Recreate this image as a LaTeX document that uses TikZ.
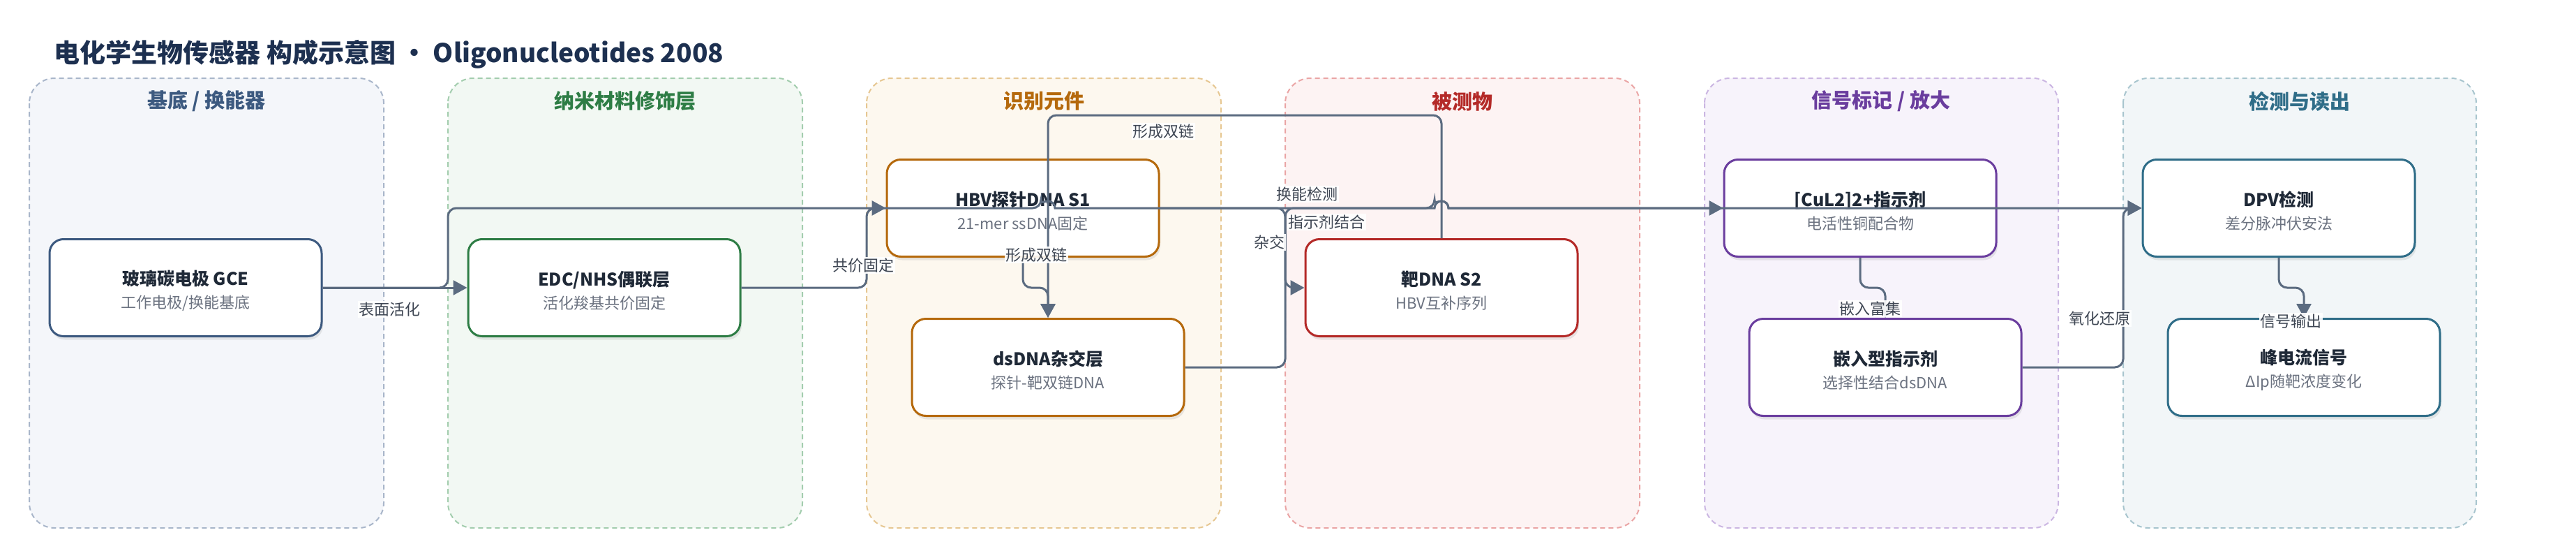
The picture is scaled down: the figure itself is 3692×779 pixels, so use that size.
\documentclass[tikz,border=0pt]{standalone}
\usepackage{fontspec}
\setmainfont{Noto Sans CJK SC}
\usetikzlibrary{arrows.meta,shadows}

\definecolor{titleink}{HTML}{1D3050}
\definecolor{nodeink}{HTML}{1F2937}
\definecolor{subink}{HTML}{6B7280}
\definecolor{labelink}{HTML}{3E4653}
\definecolor{wirecol}{HTML}{5B6B80}
\definecolor{baseC}{HTML}{3D5A80}\definecolor{baseF}{HTML}{F4F6FA}\definecolor{baseB}{HTML}{A9B6CA}
\definecolor{nanoC}{HTML}{2E7D45}\definecolor{nanoF}{HTML}{F2F8F3}\definecolor{nanoB}{HTML}{A3CDAE}
\definecolor{recoC}{HTML}{B5690C}\definecolor{recoF}{HTML}{FDF8EF}\definecolor{recoB}{HTML}{E6C792}
\definecolor{anaC}{HTML}{B42A28}\definecolor{anaF}{HTML}{FDF3F3}\definecolor{anaB}{HTML}{EAA5A5}
\definecolor{sigC}{HTML}{6A3D9E}\definecolor{sigF}{HTML}{F7F3FB}\definecolor{sigB}{HTML}{CBB6E2}
\definecolor{detC}{HTML}{2F6D88}\definecolor{detF}{HTML}{F2F6F8}\definecolor{detB}{HTML}{A8C5CE}

\tikzset{
  lane/.style 2 args={draw=#1, fill=#2, line width=2pt, dash pattern=on 7pt off 5pt, rounded corners=36pt},
  lanetitle/.style={text=#1, font=\bfseries\fontsize{29}{34}\selectfont},
  stage/.style={draw=#1, line width=3pt, fill=white, rounded corners=20pt,
    minimum width=390pt, minimum height=139pt, align=center, inner sep=0pt,
    font=\fontsize{22}{33}\selectfont, text=subink,
    drop shadow={shadow xshift=2pt, shadow yshift=-5pt, opacity=0.16}},
  wire/.style={draw=wirecol, line width=3pt, rounded corners=12pt, -{Triangle[length=20pt,width=21pt]}},
  wirelabel/.style={fill=white, fill opacity=0.9, text opacity=1, text=labelink, inner sep=1.5pt,
    font=\fontsize{22}{26}\selectfont}
}
\newcommand{\stagetext}[2]{\rule{0pt}{29pt}{\bfseries\fontsize{25}{33}\selectfont\color{nodeink}#1}\\#2}

\begin{document}
\begin{tikzpicture}[x=1pt,y=-1pt]
  \useasboundingbox (0,0) rectangle (3692,779);
  \node[anchor=west, text=titleink, font=\bfseries\fontsize{37}{44}\selectfont] (title) at (74,78)
    {电化学生物传感器 构成示意图 · Oligonucleotides 2008};

  \draw[lane={baseB}{baseF}] (42,112) rectangle (550,756);
  \draw[lane={nanoB}{nanoF}] (642,112) rectangle (1150,756);
  \draw[lane={recoB}{recoF}] (1242,112) rectangle (1750,756);
  \draw[lane={anaB}{anaF}] (1842,112) rectangle (2350,756);
  \draw[lane={sigB}{sigF}] (2443,112) rectangle (2950,756);
  \draw[lane={detB}{detF}] (3043,112) rectangle (3549,756);

  \node[lanetitle=baseC] (base) at (296,145) {基底 / 换能器};
  \node[lanetitle=nanoC] (nano) at (896,145) {纳米材料修饰层};
  \node[lanetitle=recoC] (reco) at (1496,145) {识别元件};
  \node[lanetitle=anaC] (ana) at (2096,145) {被测物};
  \node[lanetitle=sigC] (sig) at (2696,145) {信号标记 / 放大};
  \node[lanetitle=detC] (det) at (3296,145) {检测与读出};

  \node[stage=baseC] (gce) at (266,412) {\stagetext{玻璃碳电极 GCE}{工作电极/换能基底}};
  \node[stage=nanoC] (edc) at (866,412) {\stagetext{EDC/NHS偶联层}{活化羧基共价固定}};
  \node[stage=recoC] (s1) at (1466,298) {\stagetext{HBV探针DNA S1}{21-mer ssDNA固定}};
  \node[stage=recoC] (ds) at (1502,526) {\stagetext{dsDNA杂交层}{探针-靶双链DNA}};
  \node[stage=anaC] (s2) at (2066,412) {\stagetext{靶DNA S2}{HBV互补序列}};
  \node[stage=sigC] (cu) at (2666,298) {\stagetext{[CuL2]2+指示剂}{电活性铜配合物}};
  \node[stage=sigC] (intc) at (2702,526) {\stagetext{嵌入型指示剂}{选择性结合dsDNA}};
  \node[stage=detC] (dpv) at (3266,298) {\stagetext{DPV检测}{差分脉冲伏安法}};
  \node[stage=detC] (peak) at (3302,526) {\stagetext{峰电流信号}{ΔIp随靶浓度变化}};

  \draw[wire] (gce) -- (edc);
  \draw[wire] (gce.east) -- (642,412) |- (1492,298) [sharp corners] arc[start angle=180,end angle=360,radius=10]
    -- (2056,298) arc[start angle=180,end angle=360,radius=10] -- (dpv.west);
  \draw[wire] (edc.east) -- (1242,412) |- (s1.west);
  \draw[wire] (s1.south) -- (1466,412) -| (ds.north);
  \draw[wire] (s2.north) -- (2066,165) -| (ds.north);
  \draw[wire] (s1.east) -- (1842,298) |- (s2.west);
  \draw[wire] (ds.east) -- (1842,526) -- (1842,298) -- (2056,298) [sharp corners]
    arc[start angle=180,end angle=360,radius=10] -- (cu.west);
  \draw[wire] (cu.south) -- (2666,412) -| (intc.north);
  \draw[wire] (intc.east) -- (3043,526) |- (dpv.west);
  \draw[wire] (dpv.south) -- (3266,412) -| (peak.north);

  \node[wirelabel] (l1) at (558,443) {表面活化};
  \node[wirelabel] (l2) at (1237,380) {共价固定};
  \node[wirelabel] (l3) at (1485,365) {形成双链};
  \node[wirelabel] (l4) at (1667,188) {形成双链};
  \node[wirelabel] (l5) at (1873,278) {换能检测};
  \node[wirelabel] (l6) at (1901,318) {指示剂结合};
  \node[wirelabel] (l7) at (1819,347) {杂交};
  \node[wirelabel] (l8) at (2680,442) {嵌入富集};
  \node[wirelabel] (l9) at (3009,456) {氧化还原};
  \node[wirelabel] (l10) at (3283,460) {信号输出};
\end{tikzpicture}
\end{document}
